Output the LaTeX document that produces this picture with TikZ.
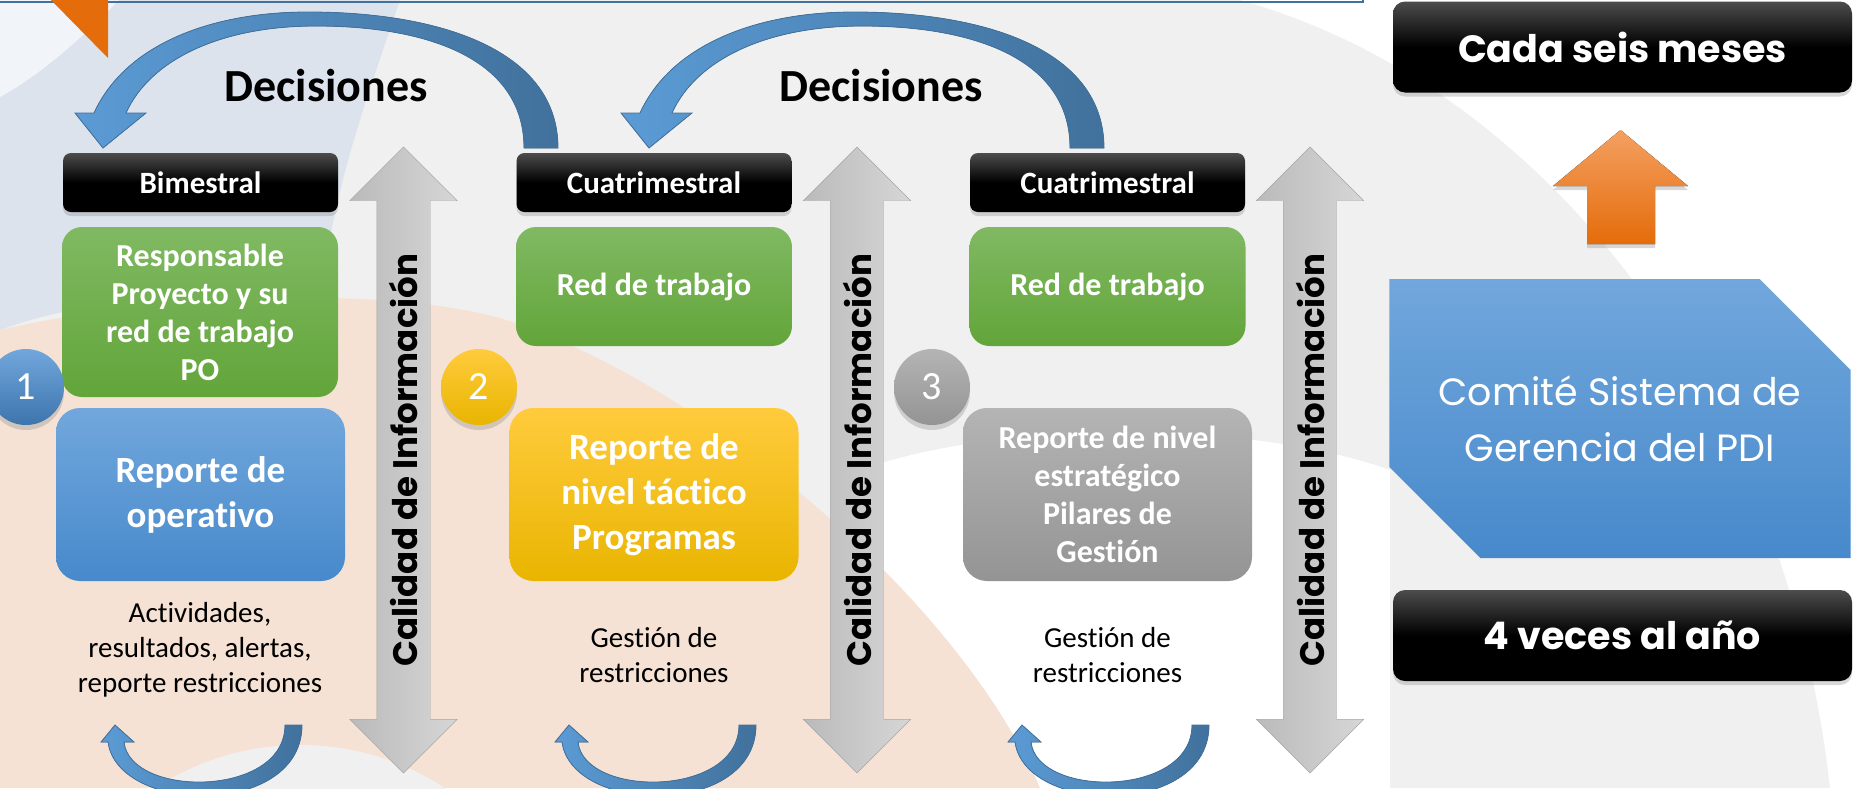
\documentclass[tikz,border=0pt]{standalone}
\usepackage{fontspec}
\setmainfont{Carlito}[Ligatures=NoCommon]
\newfontfamily\gothic{Poppins}
\usepackage{tikz}
\usetikzlibrary{arrows,shapes.arrows,shapes.misc,shadows}
\definecolor{verdeA}{HTML}{80B962}
\definecolor{verdeB}{HTML}{62A53A}
\definecolor{azulA}{HTML}{71A7DC}
\definecolor{azulB}{HTML}{4789CB}
\definecolor{oroA}{HTML}{FFCB3D}
\definecolor{oroB}{HTML}{E9B500}
\definecolor{grisA}{HTML}{B4B4B4}
\definecolor{grisB}{HTML}{949494}
\definecolor{flechaA}{HTML}{5B9BD5}
\definecolor{flechaB}{HTML}{41719C}
\definecolor{naranjaA}{HTML}{F4A062}
\definecolor{naranjaB}{HTML}{E46C0A}
\definecolor{fondo}{HTML}{F0F0F0}
\definecolor{durazno}{HTML}{F5E2D5}
\definecolor{celeste}{HTML}{DCE3ED}

\begin{document}
\begin{tikzpicture}[x=1pt,y=-1pt]
\tikzstyle{every node} = [align=center, text=white]
\tikzstyle{periodo} = [rectangle, rounded corners=8pt, minimum width=275pt, minimum height=59pt, top color=black!70, bottom color=black, middle color=black, drop shadow={opacity=0.3,shadow xshift=0pt,shadow yshift=-4pt}, font=\fontsize{31}{37}\selectfont\bfseries]
\tikzstyle{equipo} = [rectangle, rounded corners=20pt, minimum width=276pt, top color=verdeA, bottom color=verdeB, font=\fontsize{32}{38}\selectfont\bfseries]
\tikzstyle{reporte} = [rectangle, rounded corners=24pt, minimum width=289pt, minimum height=173pt, font=\fontsize{37}{45}\selectfont\bfseries]
\tikzstyle{nivel} = [circle, minimum size=76pt, inner sep=0pt, drop shadow={opacity=0.3,shadow xshift=0pt,shadow yshift=-5pt}, font=\fontsize{40}{40}\selectfont]
\tikzstyle{calidad} = [double arrow, rotate=90, double arrow head extend=27pt, minimum height=626pt, text height=30.5pt, text depth=2.5pt, inner ysep=10pt, left color=black!27, right color=black!16, draw=black!35, text=black, font=\gothic\fontsize{34}{34}\selectfont\bfseries]
\tikzstyle{nota} = [text=black, font=\fontsize{29}{35}\selectfont]
\tikzstyle{negro} = [rectangle, rounded corners=12pt, minimum width=459pt, minimum height=91pt, top color=black!70, bottom color=black, middle color=black, drop shadow={opacity=0.3,shadow xshift=0pt,shadow yshift=-4pt}, font=\gothic\fontsize{38}{38}\selectfont\bfseries]
\tikzstyle{decision} = [left color=flechaA, right color=flechaB, draw=flechaB, line width=0.8pt]

\clip (0,0) rectangle (1856,788);
\useasboundingbox (0,0) rectangle (1856,788);
\fill[fondo] (0,0) rectangle (1856,788);
\fill[white] (1240,0) .. controls (1560,90) and (1790,420) .. (1830,788) -- (1856,788) -- (1856,0) -- cycle;
\fill[white] (860,470) .. controls (1000,420) and (1250,420) .. (1390,470) -- (1390,788) -- (860,788) -- cycle;
\fill[celeste] (0,0) -- (400,0) .. controls (370,90) and (335,180) .. (322,290) .. controls (200,290) and (80,300) .. (0,330) -- cycle;
\fill[white!60!celeste] (0,0) -- (119,0) .. controls (80,40) and (40,75) .. (0,97) -- cycle;
\fill[durazno] (0,330) .. controls (150,295) and (380,285) .. (500,318) .. controls (700,380) and (960,600) .. (1040,788) -- (0,788) -- cycle;
\fill[black!6] (300,1010) circle (265);
\draw[flechaB, line width=2.5pt] (0,2) -- (1363,2) -- (1363,-5);
\fill[naranjaB] (51,0) -- (108,0) -- (108,58) -- cycle;

\node[calidad] (cal1) at (403.5,460) {Calidad de Información};
\node[calidad] (cal2) at (857,460) {Calidad de Información};
\node[calidad] (cal3) at (1310,460) {Calidad de Información};

\node[periodo] (bim) at (200.5,182.5) {Bimestral};
\node[periodo] (cua1) at (654,182.5) {Cuatrimestral};
\node[periodo] (cua2) at (1107.5,182.5) {Cuatrimestral};

\node[equipo, minimum height=170pt] (red1) at (200,312) {Responsable\\Proyecto y su\\red de trabajo\\PO};
\node[equipo, minimum height=119pt] (red2) at (654,286.5) {Red de trabajo};
\node[equipo, minimum height=119pt] (red3) at (1107.5,286.5) {Red de trabajo};

\node[reporte, top color=azulA, bottom color=azulB] (op) at (200.5,494.5) {Reporte de\\operativo};
\node[reporte, top color=oroA, bottom color=oroB, middle color=oroA!50!oroB] (tac) at (654,494.5) {Reporte de\\nivel táctico\\Programas};
\node[reporte, top color=grisA, bottom color=grisB, font=\fontsize{32}{38}\selectfont\bfseries] (est) at (1107.5,494.5) {Reporte de nivel\\estratégico\\Pilares de\\Gestión};

\node[nivel, top color=azulA, bottom color=azulB!85!black] (n1) at (26,387) {1};
\node[nivel, top color=oroA, bottom color=oroB] (n2) at (479,387) {2};
\node[nivel, top color=grisA, bottom color=grisB] (n3) at (932,387) {3};

\node[nota] (act) at (200,650) {Actividades,\\resultados, alertas,\\reporte restricciones};
\node[nota] (ges1) at (654,655) {Gestión de\\restricciones};
\node[nota] (ges2) at (1107.5,655) {Gestión de\\restricciones};

\fill[decision] (75,113) -- (94,113) .. controls (125,45) and (210,12) .. (308,12) .. controls (440,12) and (558,50) .. (558,148) -- (524,148) .. controls (524,60) and (430,26) .. (316,26) .. controls (220,26) and (150,60) .. (126,113) -- (146,113) -- (103,148) -- cycle;
\fill[decision] (621,113) -- (640,113) .. controls (671,45) and (756,12) .. (854,12) .. controls (986,12) and (1104,50) .. (1104,148) -- (1070,148) .. controls (1070,60) and (976,26) .. (862,26) .. controls (766,26) and (696,60) .. (672,113) -- (692,113) -- (649,148) -- cycle;
\node[text=black, font=\fontsize{46}{46}\selectfont\bfseries] (dec1) at (326,86) {Decisiones};
\node[text=black, font=\fontsize{46}{46}\selectfont\bfseries] (dec2) at (881,86) {Decisiones};

\fill[decision] (101,742) -- (108,742) .. controls (118,815) and (302,818) .. (302,725) -- (285,725) .. controls (285,798) and (130,798) .. (124,742) -- (134,742) -- (115,725) -- cycle;
\fill[decision] (555,742) -- (562,742) .. controls (572,815) and (756,818) .. (756,725) -- (739,725) .. controls (739,798) and (584,798) .. (578,742) -- (588,742) -- (569,725) -- cycle;
\fill[decision] (1008,742) -- (1015,742) .. controls (1025,815) and (1209,818) .. (1209,725) -- (1192,725) .. controls (1192,798) and (1037,798) .. (1031,742) -- (1041,742) -- (1022,725) -- cycle;

\node[negro] (cada) at (1622.5,47) {Cada seis meses};
\node[chamfered rectangle, chamfered rectangle corners={north east,south west}, chamfered rectangle xsep=46pt, chamfered rectangle ysep=45pt, minimum width=454pt, minimum height=279pt, top color=azulA, bottom color=azulB, font=\gothic\fontsize{38}{56}\selectfont] (cmt) at (1620,418.5) {Comité Sistema de\\Gerencia del PDI};
\node[negro] (veces) at (1622.5,635.5) {4 veces al año};
\fill[top color=naranjaA, bottom color=naranjaB, drop shadow={opacity=0.3,shadow xshift=0pt,shadow yshift=-4pt}] (1587,244) -- (1587,186) -- (1553,186) -- (1620.5,130) -- (1688,186) -- (1655,186) -- (1655,244) -- cycle;
\end{tikzpicture}
\end{document}
